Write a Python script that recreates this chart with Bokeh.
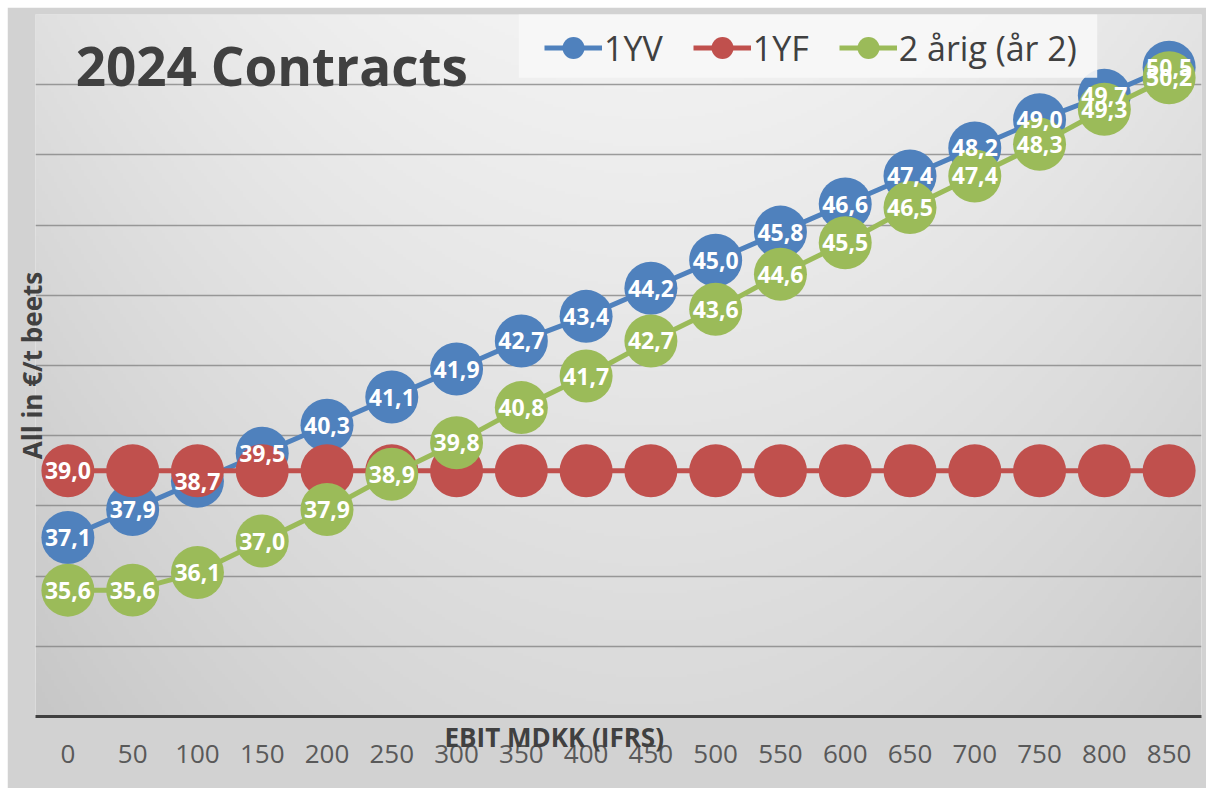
import numpy as np
from bokeh.plotting import figure
from bokeh.models import (Range1d, FixedTicker, Label, Legend, LegendItem, ColumnDataSource,
                          BoxAnnotation, Title, LinearAxis)
from bokeh.core.properties import value
from bokeh.embed import file_html
from bokeh.resources import INLINE

# ---- data ----
ebit = [0, 50, 100, 150, 200, 250, 300, 350, 400, 450, 500, 550, 600, 650, 700, 750, 800, 850]
yv_1 = [37.1, 37.9, 38.7, 39.5, 40.3, 41.1, 41.9, 42.7, 43.4, 44.2, 45.0, 45.8, 46.6, 47.4, 48.2, 49.0, 49.7, 50.5]
yf_1 = [39.0, 39.0, 39.0, 39.0, 39.0, 39.0, 39.0, 39.0, 39.0, 39.0, 39.0, 39.0, 39.0, 39.0, 39.0, 39.0, 39.0, 39.0]
aarig_2 = [35.6, 35.6, 36.1, 37.0, 37.9, 38.9, 39.8, 40.8, 41.7, 42.7, 43.6, 44.6, 45.5, 46.5, 47.4, 48.3, 49.3, 50.2]
series_names = ["1YV", "1YF", "2 årig (år 2)"]
grid_values = [34, 36, 38, 40, 42, 44, 46, 48, 50, 52]
yf_labelled = [0]  # only first 1YF point carries a data label

title_text = "2024 Contracts"
y_title = "All in €/t beets"
x_title = "EBIT MDKK (IFRS)"

colors = ["#4f81bd", "#c0504d", "#9bbb59"]

X0, X1, Y0, Y1 = -25, 875, 32, 52


def fmt(v):
    return f"{v:.1f}".replace(".", ",")


src = ColumnDataSource(dict(
    x=ebit,
    yv=yv_1, yf=yf_1, g=aarig_2,
    yv_lab=[fmt(v) for v in yv_1],
    yf_lab=[fmt(v) if i in yf_labelled else "" for i, v in enumerate(yf_1)],
    g_lab=[fmt(v) for v in aarig_2],
))

p = figure(width=1199, height=781, x_range=Range1d(X0, X1), y_range=Range1d(Y0, Y1),
           output_backend="svg", toolbar_location=None, margin=(7, 0, 0, 7),
           min_border_left=28, min_border_right=5, min_border_top=7, min_border_bottom=72)
p.background_fill_color = "#dddddd"
p.border_fill_color = "#d2d2d2"
p.outline_line_color = None

# soft background shading of the plot area (light top, darker edges / bottom)
rows, cols_n = 234, 388
fy = (np.arange(rows) + 0.5) / rows          # 0 bottom -> 1 top
fx = (np.arange(cols_n) + 0.5) / cols_n      # 0 left -> 1 right
page_y = 716 - fy * 702
page_x = 35 + fx * 1166
Yn = ((page_y - 7) / 782)[:, None]
Xn = (np.abs(page_x - 650) / 600)[None, :]
L = 243 - 28 * Yn - 18 * Xn ** 2
L = np.clip(L, 0, 255).astype(np.uint32)
img = (255 << 24) | (L << 16) | (L << 8) | L
p.image_rgba(image=[img.astype(np.uint32)], x=X0, y=Y0, dw=X1 - X0, dh=Y1 - Y0, level="image")

# main x axis: only the thick axis line
p.xaxis.ticker = FixedTicker(ticks=[])
p.xaxis.axis_line_width = 3
p.xaxis.axis_line_color = "#404040"
p.xaxis.major_tick_line_color = None
p.xaxis.minor_tick_line_color = None
p.xaxis.major_tick_out = 0
p.xaxis.minor_tick_out = 0
p.xaxis.major_label_text_font_size = "0px"

# x axis title, left-aligned at an offset, directly under the axis line
p.add_layout(Title(text=x_title, align="left", offset=409, standoff=0, text_font="Open Sans",
                   text_font_size="26px", text_font_style="bold", text_color="#404040"), "below")

# tick-label axis below the title, pulled up so the labels sit just under the title
tick_axis = LinearAxis(ticker=FixedTicker(ticks=ebit), axis_line_color=None,
                       major_tick_line_color=None, minor_tick_line_color=None,
                       major_tick_out=0, minor_tick_out=0, major_label_standoff=-10,
                       major_label_text_font="Open Sans", major_label_text_font_size="26px",
                       major_label_text_color="#595959")
p.add_layout(tick_axis, "below")

# y axis: only the title
p.yaxis.ticker = FixedTicker(ticks=[])
p.yaxis.axis_line_color = None
p.yaxis.major_tick_line_color = None
p.yaxis.minor_tick_line_color = None
p.yaxis.major_tick_out = 0
p.yaxis.minor_tick_out = 0
p.yaxis.major_label_text_font_size = "0px"
p.yaxis.axis_label = y_title
p.yaxis.axis_label_text_font = "Open Sans"
p.yaxis.axis_label_text_font_size = "26px"
p.yaxis.axis_label_text_font_style = "bold"
p.yaxis.axis_label_text_color = "#404040"
p.yaxis.axis_label_standoff = -14

p.xgrid.visible = False
p.ygrid.ticker = FixedTicker(ticks=grid_values)
p.ygrid.grid_line_color = "#7f7f7f"
p.ygrid.grid_line_width = 1.5
p.ygrid.grid_line_alpha = 0.75

cols = ["yv", "yf", "g"]
line_rs = []
for col, c in zip(cols, colors):
    lr = p.line("x", col, source=src, line_color=c, line_width=5)
    p.scatter("x", col, source=src, size=53, fill_color=c, line_color=None)
    line_rs.append(lr)

for col in cols:
    p.text("x", col, text=col + "_lab", source=src, text_font=value("Open Sans"),
           text_font_style="bold", text_font_size="23px", text_color="white",
           text_align="center", text_baseline="middle")

# legend background box
p.add_layout(BoxAnnotation(left=348, right=794.5, bottom=50.2, top=52.05,
                           fill_color="#f7f7f7", fill_alpha=0.9, line_color=None))

items = []
for name, c, col, lr in zip(series_names, colors, cols, line_rs):
    small = p.scatter("x", col, source=src, size=22, fill_color=c, line_color=None, visible=False)
    items.append(LegendItem(label=name, renderers=[lr, small]))
legend = Legend(items=items, orientation="horizontal", location=(509, 641),
                glyph_width=58, glyph_height=55, label_standoff=2, spacing=30, padding=2,
                label_text_font="Open Sans", label_text_font_size="34px",
                label_text_color="#404040", background_fill_alpha=0.0,
                border_line_color=None, inactive_fill_alpha=0.0)
p.add_layout(legend)

p.add_layout(Label(x=6.0, y=50.55, text=title_text, text_font="Open Sans", text_font_size="53px",
                   text_font_style="bold", text_color="#404040", text_align="left",
                   text_baseline="alphabetic"))

open("out.html", "w").write(file_html(p, INLINE))
